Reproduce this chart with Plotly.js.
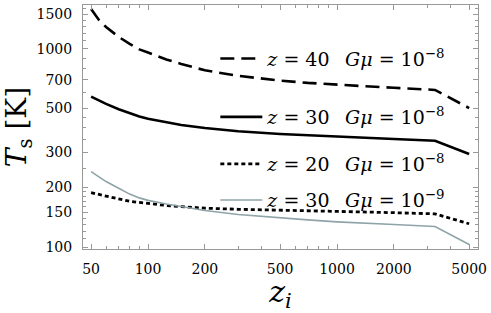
<!DOCTYPE html>
<html>
<head>
<meta charset="utf-8">
<script src="https://cdn.plot.ly/plotly-3.0.1.min.js"></script>
<style>html,body{margin:0;padding:0;background:#fff;}#plot{width:491px;height:313px;}</style>
</head>
<body>
<div id="plot"></div>
<script>
var zi = [50, 55, 60, 70, 80, 90, 100, 125, 150, 200, 300, 500, 700, 1000, 1500, 2000, 3300, 5000];
var Ts_z40_Gmu8 = [1590, 1400, 1290, 1150, 1060, 995, 960, 885, 840, 780, 732, 692, 674, 658, 646, 637, 621, 503];
var Ts_z30_Gmu8 = [574, 548, 528, 496, 472, 456, 444, 425, 413, 399, 384, 372, 366, 361, 355, 351, 344, 295];
var Ts_z20_Gmu8 = [188, 184, 180, 175, 170, 168, 166, 162, 160, 157, 155, 153, 152, 151, 150, 149, 147, 131];
var Ts_z30_Gmu9 = [240, 225, 214, 198, 185, 177, 172, 165, 160, 153, 146, 140, 137, 134, 131, 130, 127, 103];

var seriesNames = [
  '<i>z</i> = 40\u2002 <i>G\u03bc</i> = 10<sup>\u22128</sup>',
  '<i>z</i> = 30\u2002 <i>G\u03bc</i> = 10<sup>\u22128</sup>',
  '<i>z</i> = 20\u2002 <i>G\u03bc</i> = 10<sup>\u22128</sup>',
  '<i>z</i> = 30\u2002 <i>G\u03bc</i> = 10<sup>\u22129</sup>'
];
var xTicks = [50, 100, 200, 500, 1000, 2000, 5000];
var yTicks = [100, 150, 200, 300, 500, 700, 1000, 1500];
var xMinor = [60,70,80,90,300,400,600,700,800,900,3000,4000];
var yMinor = [110,120,130,140,160,170,180,190,250,350,400,450,600,800,900,1100,1200,1300,1400,1600];

var serif = 'DejaVu Serif';
var traces = [
  {x: zi, y: Ts_z40_Gmu8, name: seriesNames[0], legend: 'legend', line: {color: '#000', width: 2.6, dash: '14px,7px'}},
  {x: zi, y: Ts_z30_Gmu8, name: seriesNames[1], legend: 'legend2', line: {color: '#000', width: 2.6}},
  {x: zi, y: Ts_z20_Gmu8, name: seriesNames[2], legend: 'legend3', line: {color: '#000', width: 2.8, dash: '4px,3px'}},
  {x: zi, y: Ts_z30_Gmu9, name: seriesNames[3], legend: 'legend4', line: {color: '#8fa3a8', width: 1.6}}
].map(function(t){ t.type='scatter'; t.mode='lines'; return t; });

function leg(y){
  return {x: 0.335, y: y, xanchor: 'left', yanchor: 'middle', bgcolor: 'rgba(0,0,0,0)',
          borderwidth: 0, font: {family: serif, size: 19, color: '#000'}, itemwidth: 42};
}

var axisCommon = {
  type: 'log', showgrid: false, zeroline: false, showline: true, linecolor: '#999', linewidth: 1,
  mirror: 'ticks', ticks: 'inside', ticklen: 5, tickcolor: '#999', tickwidth: 1,
  tickfont: {family: serif, size: 14, color: '#000'}, tickmode: 'array', ticklabelstandoff: 7
};

var layout = {
  width: 491, height: 313,
  margin: {l: 83, r: 13, t: 5, b: 64},
  paper_bgcolor: '#fff', plot_bgcolor: '#fff',
  font: {family: serif, color: '#000'},
  showlegend: true,
  xaxis: Object.assign({}, axisCommon, {
    range: [Math.log10(45.3), Math.log10(5570)],
    tickvals: xTicks, ticktext: xTicks.map(String),
    minor: {tickmode: 'array', tickvals: xMinor, ticks: 'inside', ticklen: 3, tickcolor: '#999'},
    title: {text: '<i>z</i><sub><i>i</i></sub>', font: {family: serif, size: 30, color: '#000'}, standoff: 2}
  }),
  yaxis: Object.assign({}, axisCommon, {
    range: [Math.log10(97.7), Math.log10(1667)],
    tickvals: yTicks, ticktext: yTicks.map(String),
    minor: {tickmode: 'array', tickvals: yMinor, ticks: 'inside', ticklen: 3, tickcolor: '#999'},
    title: {text: '<i>T</i><sub>s</sub> [K]', font: {family: serif, size: 28, color: '#000'}, standoff: 10}
  }),
  legend: leg(0.78),
  legend2: leg(0.541),
  legend3: leg(0.348),
  legend4: leg(0.20)
};

Plotly.newPlot('plot', traces, layout, {staticPlot: true, displayModeBar: false});
</script>
</body>
</html>
